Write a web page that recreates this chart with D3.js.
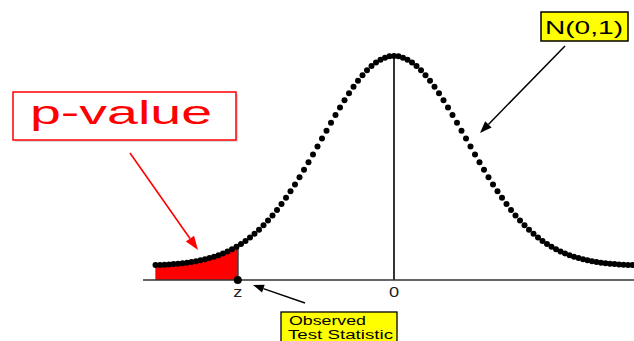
<!DOCTYPE html>
<html>
<head>
<meta charset="utf-8">
<script src="https://cdn.jsdelivr.net/npm/d3@7"></script>
<style>
  body { margin: 0; background: #fff; }
  svg { display: block; font-family: Arial, "Liberation Sans", sans-serif; }
</style>
</head>
<body>
<div id="main"></div>
<script>
const ctx = {
    w: 634,
    h: 341,
    BASE_Y: 280,
    DOT_R: 3,
};

// standard scores at which the curve dots are drawn
const zValues = [
    -3.3125, -3.25, -3.1875, -3.125, -3.0625, -3.0, -2.9375, -2.875, -2.8125, -2.75,
    -2.6875, -2.625, -2.5625, -2.5, -2.4375, -2.375, -2.3125, -2.25, -2.1875, -2.125,
    -2.0625, -2.0, -1.9375, -1.875, -1.8125, -1.75, -1.6875, -1.625, -1.5625, -1.5,
    -1.4375, -1.375, -1.3125, -1.25, -1.1875, -1.125, -1.0625, -1.0, -0.9375, -0.875,
    -0.8125, -0.75, -0.6875, -0.625, -0.5625, -0.5, -0.4375, -0.375, -0.3125, -0.25,
    -0.1875, -0.125, -0.0625, 0.0, 0.0625, 0.125, 0.1875, 0.25, 0.3125, 0.375,
    0.4375, 0.5, 0.5625, 0.625, 0.6875, 0.75, 0.8125, 0.875, 0.9375, 1.0,
    1.0625, 1.125, 1.1875, 1.25, 1.3125, 1.375, 1.4375, 1.5, 1.5625, 1.625,
    1.6875, 1.75, 1.8125, 1.875, 1.9375, 2.0, 2.0625, 2.125, 2.1875, 2.25,
    2.3125, 2.375, 2.4375, 2.5, 2.5625, 2.625, 2.6875, 2.75, 2.8125, 2.875,
    2.9375, 3.0, 3.0625, 3.125, 3.1875, 3.25, 3.3125, 3.375
];

// N(0,1) density at each of those scores
const densities = [
    0.0017, 0.0020, 0.0025, 0.0030, 0.0037, 0.0044, 0.0053, 0.0064, 0.0076, 0.0091,
    0.0108, 0.0127, 0.0150, 0.0175, 0.0205, 0.0238, 0.0275, 0.0317, 0.0365, 0.0417,
    0.0476, 0.0540, 0.0611, 0.0688, 0.0772, 0.0863, 0.0961, 0.1065, 0.1177, 0.1295,
    0.1420, 0.1550, 0.1686, 0.1826, 0.1971, 0.2119, 0.2269, 0.2420, 0.2571, 0.2721,
    0.2868, 0.3011, 0.3150, 0.3282, 0.3406, 0.3521, 0.3625, 0.3719, 0.3799, 0.3867,
    0.3920, 0.3958, 0.3982, 0.3989, 0.3982, 0.3958, 0.3920, 0.3867, 0.3799, 0.3719,
    0.3625, 0.3521, 0.3406, 0.3282, 0.3150, 0.3011, 0.2868, 0.2721, 0.2571, 0.2420,
    0.2269, 0.2119, 0.1971, 0.1826, 0.1686, 0.1550, 0.1420, 0.1295, 0.1177, 0.1065,
    0.0961, 0.0863, 0.0772, 0.0688, 0.0611, 0.0540, 0.0476, 0.0417, 0.0365, 0.0317,
    0.0275, 0.0238, 0.0205, 0.0175, 0.0150, 0.0127, 0.0108, 0.0091, 0.0076, 0.0064,
    0.0053, 0.0044, 0.0037, 0.0030, 0.0025, 0.0020, 0.0017, 0.0013
];

// observed test statistic and the density there
const zObserved = -2.17;
const zObservedDensity = 0.038;

const tickValues = [zObserved, 0];
const tickLabels = ["z", "0"];

const xScale = d3.scaleLinear().domain([-3.5, 3.5]).range([142, 646]);
const yScale = d3.scaleLinear().domain([0, 0.3989]).range([266, 56]);

function arrow(svg, x1, y1, x2, y2, color, len, half, width){
    let a = Math.atan2(y2 - y1, x2 - x1);
    let bx = x2 - len * Math.cos(a), by = y2 - len * Math.sin(a);
    svg.append("line")
       .attr("x1", x1).attr("y1", y1)
       .attr("x2", bx).attr("y2", by)
       .attr("stroke", color)
       .attr("stroke-width", width);
    let px = -Math.sin(a) * half, py = Math.cos(a) * half;
    svg.append("path")
       .attr("d", `M${x2},${y2}L${bx + px},${by + py}L${bx - px},${by - py}Z`)
       .attr("fill", color);
};

function stretchedText(svg, x, y, str, size, len, color){
    svg.append("text")
       .attr("x", x).attr("y", y)
       .attr("font-size", size)
       .attr("textLength", len)
       .attr("lengthAdjust", "spacingAndGlyphs")
       .attr("fill", color)
       .text(str);
};

function createViz(){
    let svg = d3.select("#main").append("svg")
                .attr("width", ctx.w)
                .attr("height", ctx.h);
    svg.append("rect").attr("width", ctx.w).attr("height", ctx.h).attr("fill", "#fff");

    let pts = zValues.map((z, i) => ({z: z, d: densities[i]}));

    // shaded tail (p-value)
    let tail = pts.filter((p) => p.z <= zObserved);
    tail.push({z: zObserved, d: zObservedDensity});
    let area = d3.area()
                 .x((p) => xScale(p.z))
                 .y0(ctx.BASE_Y)
                 .y1((p) => yScale(p.d));
    svg.append("path")
       .attr("d", area(tail))
       .attr("fill", "#ff0000");
    svg.append("line")
       .attr("x1", xScale(tail[0].z)).attr("x2", xScale(tail[0].z))
       .attr("y1", yScale(tail[0].d)).attr("y2", ctx.BASE_Y)
       .attr("stroke", "#888").attr("stroke-width", 1);
    svg.append("line")
       .attr("x1", xScale(zObserved)).attr("x2", xScale(zObserved))
       .attr("y1", yScale(zObservedDensity)).attr("y2", ctx.BASE_Y)
       .attr("stroke", "#444").attr("stroke-width", 2);

    // horizontal axis and centre line
    svg.append("line")
       .attr("x1", 143).attr("x2", ctx.w)
       .attr("y1", ctx.BASE_Y).attr("y2", ctx.BASE_Y)
       .attr("stroke", "#333").attr("stroke-width", 1.6);
    svg.append("line")
       .attr("x1", xScale(0)).attr("x2", xScale(0))
       .attr("y1", yScale(0.3989)).attr("y2", ctx.BASE_Y)
       .attr("stroke", "#333").attr("stroke-width", 2);

    // dotted density curve
    svg.append("g")
       .selectAll("circle")
       .data(pts)
       .enter()
       .append("circle")
       .attr("cx", (p) => xScale(p.z))
       .attr("cy", (p) => yScale(p.d))
       .attr("r", ctx.DOT_R)
       .attr("fill", "#000");

    svg.append("circle")
       .attr("cx", xScale(zObserved)).attr("cy", ctx.BASE_Y)
       .attr("r", 4).attr("fill", "#000");

    svg.append("g")
       .selectAll("text")
       .data(tickValues)
       .enter()
       .append("text")
       .attr("x", (v) => xScale(v))
       .attr("y", 297)
       .attr("text-anchor", "middle")
       .attr("font-size", 14)
       .attr("fill", "#222")
       .attr("transform", (v) => `translate(${xScale(v)},0) scale(1.3,1) translate(${-xScale(v)},0)`)
       .text((v, i) => tickLabels[i]);

    // p-value label
    svg.append("rect")
       .attr("x", 15).attr("y", 94).attr("width", 223).attr("height", 48)
       .attr("fill", "#ddd");
    svg.append("rect")
       .attr("x", 13).attr("y", 92).attr("width", 223).attr("height", 48)
       .attr("fill", "#fff").attr("stroke", "#ff0000").attr("stroke-width", 1.5);
    stretchedText(svg, 30, 124, "p-value", 34, 182, "#ff0000");
    arrow(svg, 130, 153, 198, 250, "#ff0000", 14, 5, 1.6);

    // N(0,1) label
    svg.append("rect")
       .attr("x", 541).attr("y", 12).attr("width", 87).attr("height", 29)
       .attr("fill", "#ffff00").attr("stroke", "#000").attr("stroke-width", 1.5);
    stretchedText(svg, 545, 34, "N(0,1)", 18, 78, "#000");
    arrow(svg, 565, 46, 480, 133, "#000", 12, 4.5, 1.5);

    // observed test statistic label
    svg.append("rect")
       .attr("x", 281).attr("y", 312).attr("width", 116).attr("height", 40)
       .attr("fill", "#ffff00").attr("stroke", "#000").attr("stroke-width", 1.3);
    stretchedText(svg, 289, 325, "Observed", 12, 77, "#000");
    stretchedText(svg, 288, 339, "Test Statistic", 12, 105, "#000");
    arrow(svg, 305, 303, 253, 285, "#000", 11, 4, 1.4);
};

createViz();
</script>
</body>
</html>
